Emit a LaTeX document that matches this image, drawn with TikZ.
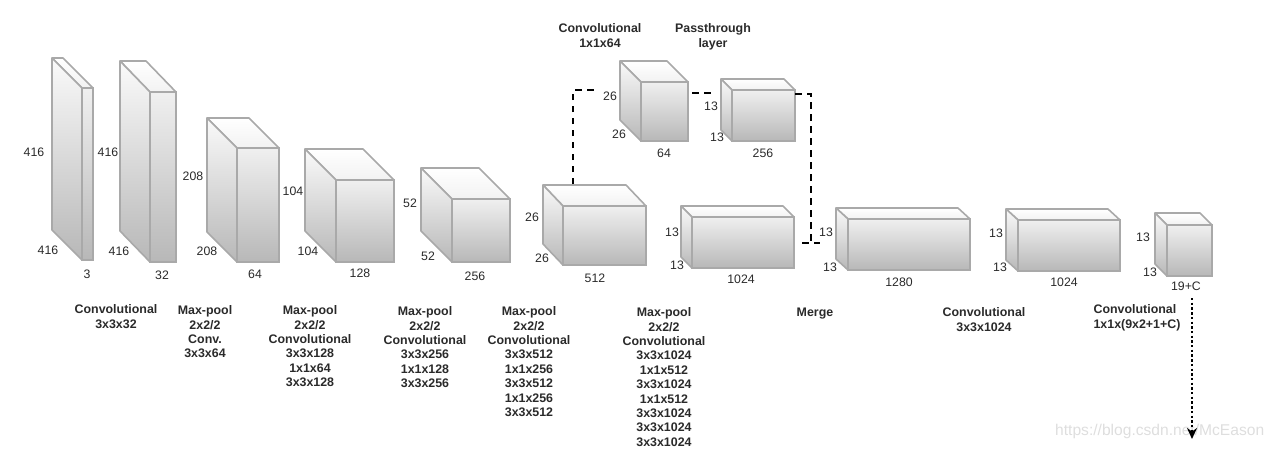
\documentclass[tikz,border=0pt]{standalone}
\usepackage{fontspec}
\setmainfont{Liberation Sans}
\usepackage{tikz}
\usetikzlibrary{arrows.meta,positioning,calc}
\definecolor{edgegray}{HTML}{A9A9A9}
\definecolor{labelgray}{HTML}{2A2A2A}
\definecolor{marksgray}{HTML}{DEDEDE}
% name, front left, front top, width, height, depth x, depth y
\newcommand{\layerbox}[7]{
    \node [front, minimum width=#4pt, minimum height=#5pt] (#1) at (#2,#3) {};
    \path [face, top color=white, bottom color=white!95!black] (#1.north west) -- ++(-#6pt,#7pt) -- ++(#4pt,0pt) -- (#1.north east) -- cycle;
    \path [face, top color=white!98!black, bottom color=white!72!black] (#1.north west) -- ++(-#6pt,#7pt) -- ++(0pt,-#5pt) -- (#1.south west) -- cycle;
}
\begin{document}
\begin{tikzpicture}[
    x=1pt, y=-1pt,
    font=\fontsize{12.3}{14.4}\selectfont,
    front/.style={rectangle, anchor=north west, inner sep=0pt, outer sep=0pt, draw=edgegray, line width=1.6pt, top color=white!94!black, bottom color=white!72!black},
    face/.style={draw=edgegray, line width=1.6pt, line join=round},
    dim/.style={text=labelgray, inner sep=0pt},
    info/.style={text=labelgray, font=\fontsize{12.4}{14.4}\selectfont\bfseries, align=center, anchor=north, inner sep=0pt},
    line/.style={draw, black, line width=2pt, dash pattern=on 6.5pt off 5.5pt},
    output/.style={draw, black, line width=2.6pt, dash pattern=on 2.4pt off 2.3pt, -{Stealth[length=11pt,width=10pt]}}
]
    \useasboundingbox (0,0) rectangle (1275,450);

    \node [text=marksgray, font=\fontsize{15.6}{18}\selectfont, anchor=west, inner sep=0pt] (marks) at (1055,431) {https://blog.csdn.net/McEason};

    \layerbox{inputA}{82}{88}{11}{172}{30}{30}
    \layerbox{convA}{150}{92}{26}{170}{30}{31}
    \layerbox{convB}{237}{148}{42}{114}{30}{30}
    \layerbox{convC}{336}{180}{58}{82}{31}{31}
    \layerbox{convD}{452}{199}{58}{63}{31}{31}
    \layerbox{convE}{563}{206}{83}{59}{20}{21}
    \layerbox{convF}{692}{217}{102}{51}{11}{11}
    \layerbox{routeA}{641}{82}{47}{59}{21}{21}
    \layerbox{routeB}{732}{90}{63}{51}{11}{11}
    \layerbox{merge}{848}{219}{122}{51}{12}{11}
    \layerbox{convG}{1018}{220}{102}{51}{12}{11}
    \layerbox{convH}{1167}{225}{45}{51}{12}{12}

    \node [dim] (a1) at (34,152) {416};
    \node [dim] (a2) at (48,250) {416};
    \node [dim] (a3) at (87,274) {3};
    \node [dim] (b1) at (108,152) {416};
    \node [dim] (b2) at (119,251) {416};
    \node [dim] (b3) at (162,275) {32};
    \node [dim] (c1) at (193,176) {208};
    \node [dim] (c2) at (207,251) {208};
    \node [dim] (c3) at (255,274) {64};
    \node [dim] (d1) at (293,191) {104};
    \node [dim] (d2) at (308,251) {104};
    \node [dim] (d3) at (360,273) {128};
    \node [dim] (e1) at (410,203) {52};
    \node [dim] (e2) at (428,256) {52};
    \node [dim] (e3) at (475,276) {256};
    \node [dim] (f1) at (532,217) {26};
    \node [dim] (f2) at (542,258) {26};
    \node [dim] (f3) at (595,278) {512};
    \node [dim] (g1) at (672,232) {13};
    \node [dim] (g2) at (677,265) {13};
    \node [dim] (g3) at (741,279) {1024};
    \node [dim] (h1) at (610,96) {26};
    \node [dim] (h2) at (619,134) {26};
    \node [dim] (h3) at (664,153) {64};
    \node [dim] (i1) at (711,106) {13};
    \node [dim] (i2) at (717,137) {13};
    \node [dim] (i3) at (763,153) {256};
    \node [dim] (j1) at (826,232) {13};
    \node [dim] (j2) at (830,267) {13};
    \node [dim] (j3) at (899,282) {1280};
    \node [dim] (k1) at (996,233) {13};
    \node [dim] (k2) at (1000,267) {13};
    \node [dim] (k3) at (1064,282) {1024};
    \node [dim] (l1) at (1143,237) {13};
    \node [dim] (l2) at (1150,272) {13};
    \node [dim] (l3) at (1186,286) {19+C};

    \node [info] (infoA) at (116,304.5) {Convolutional\\3x3x32};
    \node [info] (infoB) at (205,305.5) {Max-pool\\2x2/2\\Conv.\\3x3x64};
    \node [info] (infoC) at (310,305.5) {Max-pool\\2x2/2\\Convolutional\\3x3x128\\1x1x64\\3x3x128};
    \node [info] (infoD) at (425,306.5) {Max-pool\\2x2/2\\Convolutional\\3x3x256\\1x1x128\\3x3x256};
    \node [info] (infoE) at (529,306.5) {Max-pool\\2x2/2\\Convolutional\\3x3x512\\1x1x256\\3x3x512\\1x1x256\\3x3x512};
    \node [info] (infoF) at (664,307.5) {Max-pool\\2x2/2\\Convolutional\\3x3x1024\\1x1x512\\3x3x1024\\1x1x512\\3x3x1024\\3x3x1024\\3x3x1024};
    \node [info] (infoG) at (815,307.5) {Merge};
    \node [info] (infoH) at (984,307.5) {Convolutional\\3x3x1024};
    \node [info, align=left] (infoI) at (1137,304.5) {Convolutional\\1x1x(9x2+1+C)};
    \node [info] (infoJ) at (600,23.5) {Convolutional\\1x1x64};
    \node [info] (infoK) at (713,23.5) {Passthrough\\layer};

    \coordinate (routeIn) at (573,184);
    \coordinate (routeEnd) at (596,90);
    \coordinate (passEnd) at (712,93);
    \coordinate (mergeTurn) at (811,242.5);
    \coordinate (mergeIn) at (820,242.5);
    \coordinate (outStart) at (1192,298);
    \coordinate (outEnd) at (1192,439);

    \draw [line] (routeIn) |- (routeEnd);
    \draw [line, shorten <=4pt] ([yshift=-11pt]routeA.north east) -- (passEnd);
    \draw [line] ([yshift=-4pt]routeB.north east) -| (mergeTurn);
    \draw [line, shorten <=8pt] (convF.east) -- (mergeIn);
    \draw [output] (outStart) -- (outEnd);
\end{tikzpicture}
\end{document}
